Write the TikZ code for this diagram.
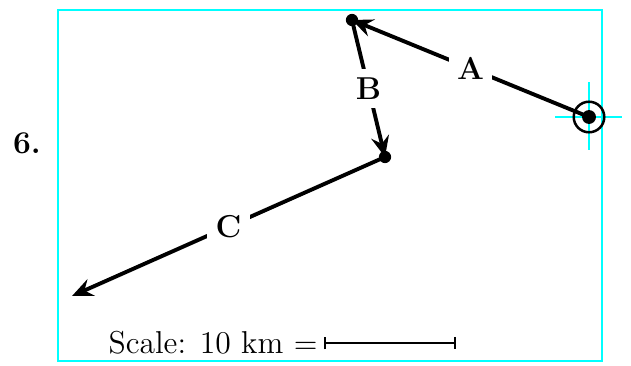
\documentclass[tikz,border=0pt]{standalone}
\usetikzlibrary{arrows.meta}
\definecolor{cy}{RGB}{0,255,255}
\begin{document}
\begin{tikzpicture}[x=0.36pt,y=-0.36pt,font=\fontsize{11.4}{13.5}\selectfont,
  leg/.style={line width=1.4pt,-{Stealth[length=7.5pt,width=6.5pt,inset=2.6pt]}},
  lab/.style={fill=white,font=\fontsize{11.4}{13.5}\selectfont\bfseries,inner sep=3pt},
  pt/.style={circle,fill=black,inner sep=0pt,minimum size=4.4pt},
  guide/.style={cy,line width=0.6pt}]
\useasboundingbox (0,0) rectangle (631,365);
\draw[guide] (58,10) rectangle (602,361);
\draw[guide] (555,117) -- (622,117);
\draw[guide] (589,82) -- (589,150);
\node[draw,circle,line width=0.9pt,minimum size=11pt,inner sep=0pt] (ring) at (589,117) {};
\node[pt,minimum size=5pt] (s) at (589,117) {};
\node[pt] (pa) at (352,20) {};
\node[pt] (pb) at (385,157) {};
\coordinate (pc) at (72,296);
\draw[leg] (s.center) -- node[lab] {A} (pa.center);
\draw[leg] (pa.center) -- node[lab] {B} (pb.center);
\draw[leg] (pb.center) -- node[lab] {C} (pc);
\node[font=\fontsize{11.4}{13.5}\selectfont\bfseries] (num) at (27,143) {6.};
\node[anchor=east,inner sep=0pt] (sc) at (318,343) {Scale: 10 km $=$};
\coordinate (b1) at (324,343);
\coordinate (b2) at (456,343);
\draw[line width=0.7pt,{Bar[width=4.5pt]}-{Bar[width=4.5pt]}] (b1) -- (b2);
\end{tikzpicture}
\end{document}
